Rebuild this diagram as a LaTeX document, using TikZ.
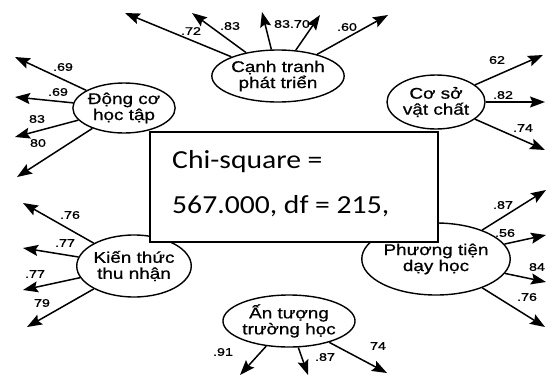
\documentclass[tikz,border=0pt]{standalone}
\usepackage{fontspec}
\setmainfont{Liberation Sans}
\newfontfamily\labfont[FakeStretch=1.3,FakeBold=1.2]{Liberation Sans}
\newfontfamily\ellfont[FakeStretch=1.22,FakeBold=0.8]{Liberation Sans}
\newfontfamily\chifont[FakeStretch=1.14]{Carlito}
\usetikzlibrary{arrows.meta,shapes.geometric}
\tikzset{
  lat/.style={ellipse,draw,line width=1.4pt,inner sep=0pt,align=center,
    font=\ellfont\fontsize{15.5}{16}\selectfont},
  arr/.style={line width=1.5pt,-{Stealth[length=15pt,width=11pt,inset=2.5pt]}},
  lab/.style={font=\labfont\fontsize{11}{11}\selectfont,inner sep=0pt},
}
\begin{document}
\begin{tikzpicture}[x=1pt,y=-1pt]
\useasboundingbox (0,0) rectangle (548,378);
% latent ellipses
\node[lat,minimum width=102pt,minimum height=50pt] (e1) at (124,108) {Động cơ\\học tập};
\node[lat,minimum width=120pt,minimum height=52pt] (e2) at (278,76) {Cạnh tranh\\phát triển};
\node[lat,minimum width=98pt,minimum height=54pt] (e3) at (436,102) {Cơ sở\\vật chất};
\node[lat,minimum width=108pt,minimum height=62pt] (e4) at (134,266) {Kiến thức\\thu nhận};
\node[lat,minimum width=116pt,minimum height=72pt] (e5) at (436,259) {Phương tiện\\dạy học};
\node[lat,minimum width=112pt,minimum height=52pt] (e6) at (289,321) {Ấn tượng\\trường học};
% tip coordinates
\coordinate (a1) at (15,57);  \coordinate (a2) at (15,97);
\coordinate (a3) at (15,137); \coordinate (a4) at (17,177);
\coordinate (b1) at (125,13); \coordinate (b2) at (192,13);
\coordinate (b3) at (262,12); \coordinate (b4) at (320,15);
\coordinate (b5) at (388,15);
\coordinate (c1) at (543,55); \coordinate (c2) at (545,102);
\coordinate (c3) at (545,150);
\coordinate (d1) at (23,203); \coordinate (d2) at (23,248);
\coordinate (d3) at (23,290); \coordinate (d4) at (27,327);
\coordinate (f1) at (546,190); \coordinate (f2) at (546,235);
\coordinate (f3) at (546,282); \coordinate (f4) at (545,327);
\coordinate (g1) at (240,375); \coordinate (g2) at (308,375);
\coordinate (g3) at (387,373);
% arrows
\foreach \t in {a1,a2,a3,a4} \draw[arr] (e1) -- (\t);
\foreach \t in {b1,b2,b3,b4,b5} \draw[arr] (e2) -- (\t);
\foreach \t in {c1,c2,c3} \draw[arr] (e3) -- (\t);
\foreach \t in {d1,d2,d3,d4} \draw[arr] (e4) -- (\t);
\foreach \t in {f1,f2,f3,f4} \draw[arr] (e5) -- (\t);
\foreach \t in {g1,g2,g3} \draw[arr] (e6) -- (\t);
% labels
\node[lab] (la1) at (63,67) {.69};
\node[lab] (la2) at (58,92) {.69};
\node[lab] (la3) at (37,119) {83};
\node[lab] (la4) at (38,143) {80};
\node[lab] (lb1) at (191,31) {.72};
\node[lab] (lb2) at (230,26) {.83};
\node[lab] (lb3) at (292,24) {83.70};
\node[lab] (lb4) at (347,27) {.60};
\node[lab] (lc1) at (497,60) {62};
\node[lab] (lc2) at (503,95) {.82};
\node[lab] (lc3) at (523,128) {.74};
\node[lab] (ld1) at (70,215) {.76};
\node[lab] (ld2) at (65,243) {.77};
\node[lab] (ld3) at (35,274) {.77};
\node[lab] (ld4) at (42,303) {79};
\node[lab] (lf1) at (503,205) {.87};
\node[lab] (lf2) at (505,233) {.56};
\node[lab] (lf3) at (537,267) {84};
\node[lab] (lf4) at (527,297) {.76};
\node[lab] (lg1) at (223,352) {.91};
\node[lab] (lg2) at (325,357) {.87};
\node[lab] (lg3) at (378,346) {74};
% chi-square box
\node[draw,fill=white,line width=1.5pt,minimum width=288pt,minimum height=110pt,
  inner sep=0pt] (box) at (294,187) {};
\node[anchor=base west,inner sep=0pt,font=\chifont\fontsize{26}{26}\selectfont]
  (t1) at (172,168) {Chi-square =};
\node[anchor=base west,inner sep=0pt,font=\chifont\fontsize{26}{26}\selectfont]
  (t2) at (172,213) {567.000, df = 215,};
\end{tikzpicture}
\end{document}
